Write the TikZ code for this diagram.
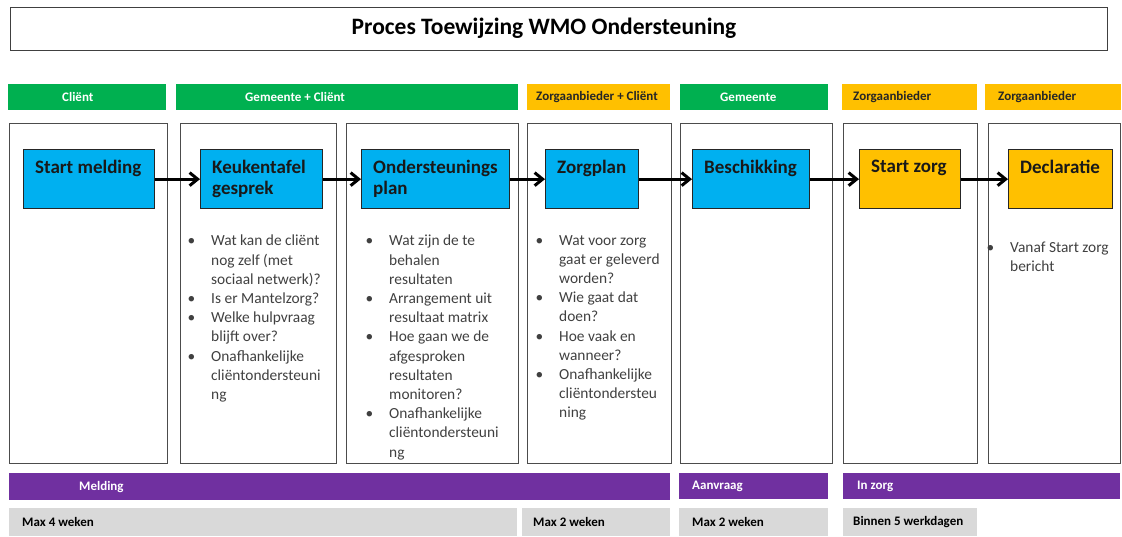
\documentclass[tikz,border=0pt]{standalone}
\usepackage{fontspec}
\setmainfont{Carlito}
\usetikzlibrary{arrows.meta, calc, positioning}

\definecolor{wmogreen}{HTML}{00B050}
\definecolor{wmoyellow}{HTML}{FFC000}
\definecolor{wmoblue}{HTML}{00B0F0}
\definecolor{wmopurple}{HTML}{7030A0}
\definecolor{wmogrey}{HTML}{D9D9D9}
\definecolor{wmotext}{HTML}{404040}

% bullet hanging left of the text
\newcommand{\wmobul}{\llap{\textbullet\hspace{16pt}}}

\begin{document}
\begin{tikzpicture}[
    x=1pt, y=-1pt,
    column/.style={draw=black!70, line width=1.3pt, anchor=north west, inner sep=0pt, minimum height=340},
    stepbox/.style={draw=black!85, line width=1.3pt, anchor=north west, inner sep=0pt, minimum height=59},
    steptext/.style={anchor=north west, inner sep=0pt, align=left, text=black!90, font=\fontsize{19}{21}\selectfont\bfseries},
    bar/.style={anchor=north west, inner sep=0pt},
    bartext/.style={anchor=west, inner sep=0pt, font=\fontsize{13}{15}\selectfont\bfseries},
    bullets/.style={anchor=north west, inner sep=0pt, align=left, text=wmotext, font=\fontsize{15.4}{19.2}\selectfont},
    flow/.style={line width=3pt, -{Straight Barb[length=8pt, width=13pt]}}
    ]

    % Determines the boundries
    \useasboundingbox (0,0) rectangle (1122,536);

    % Title
    \node[draw=black!75, line width=1.2pt, anchor=north west, minimum width=1097, minimum height=43] (title) at (10,7) {};
    \node[font=\fontsize{23.5}{26}\selectfont\bfseries] (titletext) at (544,28) {Proces Toewijzing WMO Ondersteuning};

    % Who is responsible (top bars)
    \foreach \n/\x/\w/\c/\t/\tc/\dx in {
        hC/8/158/wmogreen/Cliënt/white/54,
        hGC/176/342/wmogreen/Gemeente + Cliënt/white/69,
        hZC/527/143/wmoyellow/Zorgaanbieder + Cliënt/black!85/9,
        hG/680/148/wmogreen/Gemeente/white/40,
        hZa/842/135/wmoyellow/Zorgaanbieder/black!85/11,
        hZb/985/136/wmoyellow/Zorgaanbieder/black!85/13}{
        \node[bar, fill=\c, minimum width=\w, minimum height=26] (\n) at (\x,84) {};
        \node[bartext, text=\tc] (\n-t) at ([xshift=\dx]\n.west) {\t};
    }

    % Columns
    \foreach \n/\x/\w in {c1/9/158, c2/180/156, c3/346/172, c4/527/144, c5/680/152, c6/843/134, c7/988/132}{
        \node[column, minimum width=\w] (\n) at (\x,123) {};
    }

    % Process steps
    \foreach \n/\x/\w/\c/\t in {
        sm/23/131/wmoblue/Start melding,
        kg/200/122/wmoblue/{Keukentafel\\gesprek},
        op/361/148/wmoblue/{Ondersteunings\\plan},
        zp/545/93/wmoblue/Zorgplan,
        bs/692/117/wmoblue/Beschikking,
        sz/859/101/wmoyellow/Start zorg,
        dc/1008/104/wmoyellow/Declaratie}{
        \node[stepbox, fill=\c, minimum width=\w] (\n) at (\x,149) {};
        \node[steptext] (\n-t) at ([shift={(12,11)}]\n.north west) {\t};
    }

    % Arrows between the steps
    \foreach \a/\b in {sm/kg, kg/op, op/zp, zp/bs, bs/sz, sz/dc}{
        \draw[flow] (\a.east) -- (\b.west);
    }

    % Questions per step
    \node[bullets] (q2) at (211,235) {\wmobul Wat kan de cliënt\\nog zelf (met\\sociaal netwerk)?\\
        \wmobul Is er Mantelzorg?\\\wmobul Welke hulpvraag\\blijft over?\\
        \wmobul Onafhankelijke\\cliëntondersteuni\\ng};
    \node[bullets] (q3) at (389,235) {\wmobul Wat zijn de te\\behalen\\resultaten\\
        \wmobul Arrangement uit\\resultaat matrix\\
        \wmobul Hoe gaan we de\\afgesproken\\resultaten\\monitoren?\\
        \wmobul Onafhankelijke\\cliëntondersteuni\\ng};
    \node[bullets] (q4) at (559,235) {\wmobul Wat voor zorg\\gaat er geleverd\\worden?\\
        \wmobul Wie gaat dat\\doen?\\\wmobul Hoe vaak en\\wanneer?\\
        \wmobul Onafhankelijke\\cliëntondersteu\\ning};
    \node[bullets] (q7) at (1010,242) {\wmobul Vanaf Start zorg\\bericht};

    % Phases and time limits (bottom bars)
    \foreach \n/\x/\y/\w/\h/\c/\t/\tc/\dx in {
        pM/9/473/661/27/wmopurple/Melding/white/70,
        pA/679/473/149/26/wmopurple/Aanvraag/white/13,
        pZ/843/473/277/26/wmopurple/In zorg/white/14,
        g4/9/508/508/28/wmogrey/Max 4 weken/black/13,
        g2a/522/508/148/28/wmogrey/Max 2 weken/black/11,
        g2b/679/508/149/28/wmogrey/Max 2 weken/black/13,
        g5/843/508/134/28/wmogrey/Binnen 5 werkdagen/black/10}{
        \node[bar, fill=\c, minimum width=\w, minimum height=\h] (\n) at (\x,\y) {};
        \node[bartext, text=\tc] (\n-t) at ([xshift=\dx]\n.west) {\t};
    }
\end{tikzpicture}
\end{document}
